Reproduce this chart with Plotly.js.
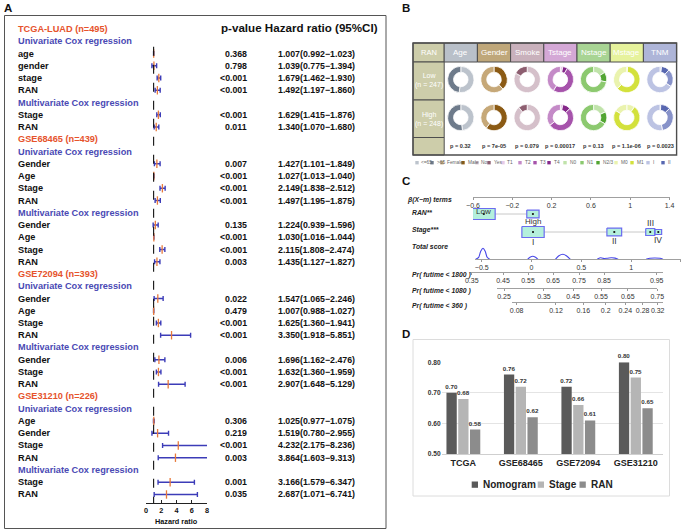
<!DOCTYPE html>
<html><head><meta charset="utf-8">
<script src="https://cdn.plot.ly/plotly-3.0.1.min.js"></script>
<style>html,body{margin:0;padding:0;background:#fff}#chart{width:685px;height:530px}</style>
</head><body><div id="chart"></div>
<script>
// ================= DATA =================
// Panel A – forest plot
const forestLabels = ['TCGA-LUAD (n=495)','Univariate Cox regression','age','gender','stage','RAN','Multivariate Cox regression','Stage','RAN',
 'GSE68465 (n=439)','Univariate Cox regression','Gender','Age','Stage','RAN','Multivariate Cox regression','Gender','Age','Stage','RAN',
 'GSE72094 (n=393)','Univariate Cox regression','Gender','Age','Stage','RAN','Multivariate Cox regression','Gender','Stage','RAN',
 'GSE31210 (n=226)','Univariate Cox regression','Age','Gender','Stage','RAN','Multivariate Cox regression','Stage','RAN'];
const forestP = [null,null,'0.368','0.798','<0.001','<0.001',null,'<0.001','0.011',
 null,null,'0.007','<0.001','<0.001','<0.001',null,'0.135','<0.001','<0.001','0.003',
 null,null,'0.022','0.479','<0.001','<0.001',null,'0.006','<0.001','<0.001',
 null,null,'0.306','0.219','<0.001','0.003',null,'0.001','0.035'];
const forestHR = [null,null,1.007,1.039,1.679,1.492,null,1.629,1.340,
 null,null,1.427,1.027,2.149,1.497,null,1.224,1.030,2.115,1.435,
 null,null,1.547,1.007,1.625,3.350,null,1.696,1.632,2.907,
 null,null,1.025,1.519,4.232,3.864,null,3.166,2.687];
const forestLo = [null,null,0.992,0.775,1.462,1.197,null,1.415,1.070,
 null,null,1.101,1.013,1.838,1.195,null,0.939,1.016,1.808,1.127,
 null,null,1.065,0.988,1.360,1.918,null,1.162,1.360,1.648,
 null,null,0.977,0.780,2.175,1.603,null,1.579,1.071];
const forestHi = [null,null,1.023,1.394,1.930,1.860,null,1.876,1.680,
 null,null,1.849,1.040,2.512,1.875,null,1.596,1.044,2.474,1.827,
 null,null,2.246,1.027,1.941,5.851,null,2.476,1.959,5.129,
 null,null,1.075,2.955,8.236,9.313,null,6.347,6.741];
const hrTicks = [0,2,4,6,8];

// Panel B – donut table
const bVars = ['Age','Gender','Smoke','Tstage','Nstage','Mstage','TNM'];
const bGroups = ['Low<br>(n = 247)','High<br>(n = 248)'];
const bPvals = ['0.32','7e-05','0.079','0.00017','0.13','1.1e-06','0.0023'];
const bCats = [['<=65','>65'],['Male','Female'],['No','Yes'],['T1','T4','T3','T2'],['N0','N2/3','N1'],['MX','M1','M0'],['IV','III','II','I']];
const bLow  = [[52,48],[38,62],[83,17],[3,6,50,41],[16,12,72],[1,62,37],[2,10,22,66]];
const bHigh = [[48,52],[60,40],[89,11],[3,10,52,35],[18,15,67],[10,74,16],[1,12,34,53]];
const legendLabels = ['<=65','>65','Female','Male','No','Yes','T1','T2','T3','T4','N0','N1','N2/3','M0','M1','I','II'];

// Panel C – nomogram
const ranLevels = ['Low','High'];
const ranBeta = [-0.49,0.01];
const ranBoxW = [0.231,0.125];
const ranBoxH = [0.61,0.44];
const stageLevels = ['I','II','III','IV'];
const stageBeta = [0.011,0.838,1.204,1.286];
const stageBoxW = [0.227,0.15,0.092,0.068];
const stageBoxH = [0.61,0.44,0.39,0.28];
const betaTicks = [-0.6,-0.2,0.2,0.6,1,1.4];
const scoreTicks = [-0.5,0,0.5,1,1.5];
const densScore = [-0.56,-0.53,-0.51,-0.487,-0.465,-0.445,-0.42,null,-0.04,-0.015,0.012,0.04,0.065,null,0.24,0.275,0.316,0.35,0.39,null,0.66,0.69,0.72,0.76,0.8,0.84,0.87,null,1.15,1.19,1.24,1.29,1.32];
const densValue = [0,2,8,11,8,2,0,null,0,2,3,2,0,null,0,3.5,5,3.5,0,null,0,1.6,0.9,1.0,1.5,1.2,0,null,0,1.1,1.3,1.0,0];
const pr1800Labels = ['0.35','0.45','0.55','0.65','0.75','0.85','0.95'];
const pr1800Score  = [-0.600,-0.286,-0.035,0.216,0.477,0.728,1.257];
const pr1080Labels = ['0.25','0.35','0.45','0.55','0.65','0.75'];
const pr1080Score  = [-0.276,0.125,0.417,0.698,0.966,1.263];
const pr360Labels  = ['0.08','0.12','0.16','0.2','0.24','0.28','0.32'];
const pr360Score   = [-0.149,0.246,0.520,0.745,0.942,1.116,1.267];

// Panel D – C-index bars
const cohortsD = ['TCGA','GSE68465','GSE72094','GSE31210'];
const aucNomogram = [0.70,0.76,0.72,0.80];
const aucStage = [0.68,0.72,0.66,0.75];
const aucRAN = [0.58,0.62,0.61,0.65];

// ================= STYLE / LAYOUT =================
const FONT = 'Liberation Sans, Arial, sans-serif';
const W = 685, H = 530;
const px = v => v / W, py = v => 1 - v / H;
const traces = [], shapes = [], annotations = [];
const ann = (o) => annotations.push(Object.assign({showarrow:false, xref:'paper', yref:'paper', xanchor:'center', yanchor:'middle'}, o));

// ----- Panel A -----
const rows = forestLabels.map((_, i) => i + 1);
const cohortColor = '#e6532c', modelColor = '#4a4ab4';
traces.push({
  type:'scatter', mode:'markers', xaxis:'x', yaxis:'y', cliponaxis:false,
  x: forestHR, y: rows,
  marker:{symbol:'line-ns', size:6, line:{color:'#e8793a', width:1.3}},
  error_x:{type:'data', symmetric:false,
    array: forestHR.map((v,i)=> v==null?null:forestHi[i]-v),
    arrayminus: forestHR.map((v,i)=> v==null?null:v-forestLo[i]),
    color:'#3c3cb8', thickness:1.4, width:2.5},
  hoverinfo:'skip'
});
forestLabels.forEach((lab, i) => {
  const isCohort = /\(n=/.test(lab), isModel = /Cox/.test(lab);
  ann({x:px(16), xanchor:'left', yref:'y', y:rows[i], text:lab,
       font:{family:FONT, size:9.2, weight:'bold', color: isCohort?cohortColor:(isModel?modelColor:'#111')}});
  if (forestP[i] != null) {
    ann({x:px(249.5), xanchor:'right', yref:'y', y:rows[i], text:forestP[i], font:{family:FONT, size:8.8, weight:'bold', color:'#111'}});
    ann({x:px(357), xanchor:'right', yref:'y', y:rows[i],
         text: forestHR[i].toFixed(3)+'('+forestLo[i].toFixed(3)+'\u2212'+forestHi[i].toFixed(3)+')',
         font:{family:FONT, size:8.8, weight:'bold', color:'#111'}});
  }
});
ann({x:px(219), xanchor:'left', y:py(27.5), text:'p-value Hazard ratio (95%CI)', font:{family:FONT, size:11.6, weight:'bold', color:'#111'}});
ann({x:px(176.5), y:py(521.5), text:'Hazard ratio', font:{family:FONT, size:7.3, weight:'bold', color:'#111'}});
shapes.push({type:'line', xref:'x', yref:'y', x0:1, x1:1, y0:2.45, y1:39.72, line:{color:'#111', width:1.1, dash:'dash'}});
shapes.push({type:'rect', xref:'paper', yref:'paper', x0:px(4.5), x1:px(386), y0:py(15.5), y1:py(528.5), line:{color:'#555', width:1}});

// ----- Panel B -----
const bColors = [['#bcc3cc','#6e7b8b'],['#8b5a14','#c6a878'],['#d5c0ca','#8d5e70'],
  ['#e8cbe8','#85278a','#a653ab','#c48ac7'],['#c0e3aa','#52a532','#8cc96f'],
  ['#eaf3ae','#d3e13c','#eaf3ae'],['#aeb6de','#5867b0','#8792c9','#bcc3e3']];
const headColors = ['#b9c0c9','#bfa77a','#c9b1bc','#d4a8d6','#a8d494','#e6f29c','#aeb5d8'];
const legendColors = ['#bcc3cc','#6e7b8b','#c6a878','#8b5a14','#d5c0ca','#8d5e70','#e8cbe8','#c48ac7','#a653ab','#85278a','#c0e3aa','#8cc96f','#52a532','#eaf3ae','#d3e13c','#bcc3e3','#5867b0'];
const legendX = [417,432,442,463,477,489,503,520,535,549,565,582,598,616,632,648,663];
const khaki = '#cdcdaa', gridDark = '#4d4d4d';
const colX0 = 444.2, colW = 33.2, rowCY = [79.5, 117.5], R = 13.2;
shapes.push({type:'rect', xref:'paper', yref:'paper', layer:'below', x0:px(413), x1:px(colX0), y0:py(62), y1:py(43), fillcolor:khaki, line:{color:gridDark, width:1}});
bVars.forEach((v,i)=>{
  shapes.push({type:'rect', xref:'paper', yref:'paper', layer:'below', x0:px(colX0+colW*i), x1:px(colX0+colW*(i+1)), y0:py(62), y1:py(43), fillcolor:headColors[i], line:{color:gridDark, width:1}});
  ann({x:px(colX0+colW*(i+0.5)), y:py(52.5), text:v, font:{family:FONT, size:8, color:'#ffffff'}});
  ann({x:px(colX0+colW*(i+0.5)), y:py(146), text:'p = '+bPvals[i], font:{family:FONT, size:5.6, weight:'bold', color:'#333'}});
});
ann({x:px(428.6), y:py(52.5), text:'RAN', font:{family:FONT, size:7.5, color:'#ffffff'}});
[[62,100],[100,137.5],[137.5,155]].forEach(([a,b])=>{
  shapes.push({type:'rect', xref:'paper', yref:'paper', layer:'below', x0:px(413), x1:px(colX0), y0:py(b), y1:py(a), fillcolor:khaki, line:{color:gridDark, width:1}});
});
bGroups.forEach((g,k)=> ann({x:px(428.6), y:py(rowCY[k]+1.5), text:g, font:{family:FONT, size:7, color:'#ffffff'}}));
shapes.push({type:'rect', xref:'paper', yref:'paper', x0:px(413), x1:px(colX0+colW*7), y0:py(155), y1:py(43), line:{color:gridDark, width:1.4}});
bVars.forEach((v,i)=>{
  [bLow[i], bHigh[i]].forEach((vals,k)=>{
    const cx = colX0 + colW*(i+0.5), cy = rowCY[k];
    traces.push({type:'pie', labels:bCats[i], values:vals, hole:0.55, sort:false, direction:'clockwise', rotation:0,
      textinfo:'none', hoverinfo:'skip', showlegend:false,
      marker:{colors:bColors[i], line:{color:'#ffffff', width:0.8}},
      domain:{x:[px(cx-R), px(cx+R)], y:[py(cy+R), py(cy-R)]}});
  });
});
legendLabels.forEach((l,i)=>{
  shapes.push({type:'rect', xref:'paper', yref:'paper', x0:px(legendX[i]-1.7), x1:px(legendX[i]+1.7), y0:py(164.4), y1:py(161), fillcolor:legendColors[i], line:{width:0}});
  ann({x:px(legendX[i]+2.5), xanchor:'left', y:py(162.7), text:l, font:{family:FONT, size:4.8, color:'#666'}});
});

// ----- Panel C -----
const scorePx = s => 531.5 + 99.6*s;
const betaPx0 = 473, betaPx1 = 669.5;
[[ranBeta,1],[stageBeta,2]].forEach(([b,r])=>{
  traces.push({type:'scatter', mode:'lines', xaxis:'x3', yaxis:'y3', x:[Math.min(...b), Math.max(...b)], y:[r,r], line:{color:'#c8c8c8', width:1}, hoverinfo:'skip'});
});
const bx=[], by=[];
[[ranBeta,ranBoxW,ranBoxH,1],[stageBeta,stageBoxW,stageBoxH,2]].forEach(([b,w,h,r])=>{
  b.forEach((c,j)=>{
    bx.push(c-w[j]/2, c+w[j]/2, c+w[j]/2, c-w[j]/2, c-w[j]/2, null);
    by.push(r-h[j]/2, r-h[j]/2, r+h[j]/2, r+h[j]/2, r-h[j]/2, null);
  });
});
traces.push({type:'scatter', mode:'lines', xaxis:'x3', yaxis:'y3', x:bx, y:by, fill:'toself', fillcolor:'#b4f0dc', line:{color:'#6b6bf0', width:1.2}, hoverinfo:'skip'});
traces.push({type:'scatter', mode:'markers', xaxis:'x3', yaxis:'y3', x:ranBeta.concat(stageBeta), y:ranBeta.map(()=>1).concat(stageBeta.map(()=>2)),
  marker:{color:'#111', size:2.2}, hoverinfo:'skip'});
const sideRAN = ['above','below'], sideStage = ['below','below','above','below'];
ranLevels.forEach((l,j)=> ann({xref:'x3', yref:'y3', x:ranBeta[j], y: sideRAN[j]==='above'?1-ranBoxH[j]/2:1+ranBoxH[j]/2, yshift: sideRAN[j]==='above'?-2.5:-4, text:l, font:{family:FONT, size:8, color:'#333'}}));
stageLevels.forEach((l,j)=> ann({xref:'x3', yref:'y3', x:stageBeta[j], y: sideStage[j]==='above'?2-stageBoxH[j]/2:2+stageBoxH[j]/2, yshift: sideStage[j]==='above'?5:-5, text:l, font:{family:FONT, size:8.5, color:'#333'}}));
traces.push({type:'scatter', mode:'lines', xaxis:'x4', yaxis:'y4', x:densScore, y:densValue, connectgaps:false,
  line:{color:'#4848e8', width:1.1, shape:'spline', smoothing:0.8}, hoverinfo:'skip'});
['x5','x6','x7'].forEach(a=> traces.push({type:'scatter', x:[], y:[], xaxis:a, yaxis:'y4', hoverinfo:'skip'}));
const cLab = (t,y,x)=> ann({x:px(x), xanchor:'left', y:py(y), text:t, font:{family:FONT, size:6.8, weight:'bold', style:'italic', color:'#222'}});
cLab('\u03b2(X\u2212m) terms',200,405);
cLab('RAN**',212,410);
cLab('Stage***',230.5,410);
cLab('Total score',246.5,410);
cLab('Pr( futime &lt; 1800 )',274.5,410);
cLab('Pr( futime &lt; 1080 )',291,410);
cLab('Pr( futime &lt; 360 )',305.5,410);

// ----- Panel D -----
const barColors = ['#5a5a5a','#b5b5b5','#8c8c8c'];
[['Nomogram',aucNomogram],['Stage',aucStage],['RAN',aucRAN]].forEach(([n,v],k)=>{
  traces.push({type:'bar', name:n, x:cohortsD, y:v, xaxis:'x2', yaxis:'y2', marker:{color:barColors[k]},
    text:v.map(d=>d.toFixed(2)), textposition:'outside', cliponaxis:false, constraintext:'none',
    textfont:{family:FONT, size:6.2, weight:'bold', color:'#333'}, hoverinfo:'skip'});
});
shapes.push({type:'rect', xref:'paper', yref:'paper', x0:px(413), x1:px(669.5), y0:py(496), y1:py(339.5), line:{color:'#dcdcdc', width:1}});
[['Nomogram',471.7,481],['Stage',537.7,546.5],['RAN',579.5,588.5]].forEach(([n,sx,tx],k)=>{
  shapes.push({type:'rect', xref:'paper', yref:'paper', x0:px(sx), x1:px(sx+6.3), y0:py(487.8), y1:py(481.5), fillcolor:barColors[k], line:{width:0}});
  ann({x:px(tx), xanchor:'left', y:py(484.6), text:n, font:{family:FONT, size:10, weight:'bold', color:'#222'}});
});

[['A',8,8],['B',406,8],['C',406,181],['D',406,334]].forEach(([t,x,y])=> ann({x:px(x), y:py(y), text:t, font:{family:FONT, size:11.5, weight:'bold', color:'#111'}}));

const axBase = {showgrid:false, zeroline:false, fixedrange:true};
const layout = {
  width:W, height:H, margin:{l:0,r:0,t:0,b:0}, paper_bgcolor:'#ffffff', plot_bgcolor:'rgba(0,0,0,0)',
  showlegend:false, font:{family:FONT, color:'#222'}, barmode:'group', bargap:0.386, bargroupgap:0.125,
  xaxis: Object.assign({}, axBase, {domain:[px(146),px(207)], range:[0,8], anchor:'y', tickvals:hrTicks, ticks:'inside', ticklen:3, tickcolor:'#222',
    showline:true, linecolor:'#222', linewidth:1, ticklabelstandoff:0, tickfont:{family:FONT, size:7.3, weight:'bold', color:'#111'}}),
  yaxis: Object.assign({}, axBase, {domain:[py(503.3), py(22.9)], range:[39.72,0.5], anchor:'x', visible:false}),
  xaxis2: Object.assign({}, axBase, {domain:[px(441.7),px(663)], range:[-0.377,3.473], anchor:'y2', type:'category', showline:true, linecolor:'#cfcfcf',
    ticks:'', tickfont:{family:FONT, size:9, weight:'bold', color:'#222'}}),
  yaxis2: Object.assign({}, axBase, {domain:[py(454), py(362.3)], range:[0.5,0.8], anchor:'x2', tickvals:[0.5,0.6,0.7,0.8], tickformat:'.2f',
    showgrid:true, gridcolor:'#e4e4e4', gridwidth:1, ticks:'', tickfont:{family:FONT, size:6.6, weight:'bold', color:'#333'}}),
  xaxis3: Object.assign({}, axBase, {domain:[px(betaPx0),px(betaPx1)], range:[-0.6,1.4], anchor:'free', position:py(197.3), tickvals:betaTicks, tickangle:0,
    ticks:'outside', ticklen:1.5, tickcolor:'#999', showline:true, linecolor:'#a0a0a0', tickfont:{family:FONT, size:7, color:'#333'}}),
  yaxis3: Object.assign({}, axBase, {domain:[py(250), py(195)], range:[(250-214)/18+1, (195-214)/18+1], anchor:'x3', visible:false}),
  xaxis4: Object.assign({}, axBase, {domain:[px(scorePx(-0.57)), px(scorePx(1.5))], range:[-0.57,1.5], anchor:'y4', tickvals:scoreTicks, tickangle:0,
    ticks:'outside', ticklen:1.5, tickcolor:'#999', showline:true, linecolor:'#a0a0a0', tickfont:{family:FONT, size:7, color:'#333'}}),
  yaxis4: Object.assign({}, axBase, {domain:[py(259.3), py(245)], range:[0,14.3], anchor:'x4', visible:false}),
};
const probAxis = (labels, scores, lo, hi, yPix) => Object.assign({}, axBase, {
  domain:[px(scorePx(lo)), px(scorePx(hi))], range:[lo,hi], anchor:'free', position:py(yPix),
  tickvals:scores, ticktext:labels, tickangle:0, ticks:'outside', ticklen:1.5, tickcolor:'#999', showline:true, linecolor:'#a0a0a0',
  tickfont:{family:FONT, size:7, color:'#333'}});
layout.xaxis5 = probAxis(pr1800Labels, pr1800Score, -0.617, 1.32, 272);
layout.xaxis6 = probAxis(pr1080Labels, pr1080Score, -0.349, 1.263, 288.3);
layout.xaxis7 = probAxis(pr360Labels, pr360Score, -0.199, 1.323, 302);
layout.shapes = shapes;
layout.annotations = annotations;

Plotly.newPlot('chart', traces, layout, {displayModeBar:false, staticPlot:true});
</script></body></html>
